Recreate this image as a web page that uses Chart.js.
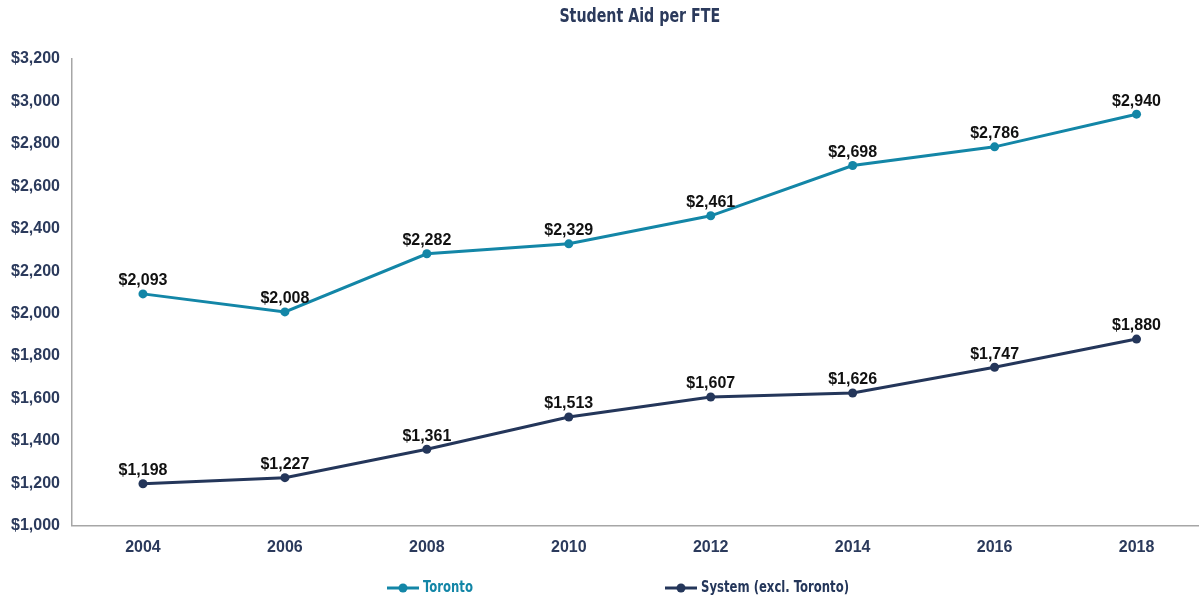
<!DOCTYPE html>
<html>
<head>
<meta charset="utf-8">
<script src="https://cdn.jsdelivr.net/npm/chart.js@4/dist/chart.umd.min.js"></script>
<style>
  html, body { margin: 0; padding: 0; background: #fff; overflow: hidden; }
  #wrap { width: 1199px; height: 597px; overflow: hidden; position: relative; }
  canvas { display: block; }
</style>
</head>
<body>
<div id="wrap"><canvas id="chart" width="1212" height="597"></canvas></div>
<script>
// données
const years = ['2004', '2006', '2008', '2010', '2012', '2014', '2016', '2018'];
const toronto = [2093, 2008, 2282, 2329, 2461, 2698, 2786, 2940];
const systemExcl = [1198, 1227, 1361, 1513, 1607, 1626, 1747, 1880];
const seriesNames = ['Toronto', 'System (excl. Toronto)'];
const chartTitle = 'Student Aid per FTE';
const yMin = 1000, yMax = 3200, yStep = 200;

const TEAL = '#1386a7';
const NAVY = '#24365a';
const AXIS_TXT = '#2b3a5c';
const NARROW = "'DejaVu Sans Condensed', 'Liberation Sans', sans-serif";
const SANS = "'Liberation Sans', Arial, sans-serif";

function fmtDollar(v) {
  return '$' + v.toLocaleString('en-US');
}

// texte "étroit" : police condensée + compression horizontale
function narrowText(ctx, txt, x, y, sx, align) {
  ctx.save();
  ctx.translate(x, y);
  ctx.scale(sx, 1);
  ctx.textAlign = align;
  ctx.fillText(txt, 0, 0);
  ctx.restore();
}

// étiquettes de valeur au-dessus des points
const valueLabels = {
  id: 'valueLabels',
  afterDatasetsDraw: function(chart) {
    const ctx = chart.ctx;
    ctx.save();
    ctx.font = 'bold 16px ' + SANS;
    ctx.fillStyle = '#111';
    ctx.textAlign = 'center';
    ctx.textBaseline = 'middle';
    chart.data.datasets.forEach(function(ds, i) {
      const meta = chart.getDatasetMeta(i);
      meta.data.forEach(function(pt, j) {
        ctx.fillText(fmtDollar(ds.data[j]), pt.x, pt.y - 13);
      });
    });
    ctx.restore();
  }
};

// titre centré sur la zone de tracé + légende maison (écart large entre les séries)
const titleAndLegend = {
  id: 'titleAndLegend',
  afterDraw: function(chart) {
    const ctx = chart.ctx;
    const area = chart.chartArea;
    ctx.save();
    ctx.textBaseline = 'middle';
    ctx.fillStyle = AXIS_TXT;
    ctx.font = 'bold 20px ' + NARROW;
    narrowText(ctx, chartTitle, (area.left + area.right) / 2, 17, 0.79, 'center');

    const starts = [387, 665];
    const yc = 588;
    ctx.font = 'bold 16px ' + NARROW;
    chart.data.datasets.forEach(function(ds, i) {
      const x0 = starts[i];
      ctx.strokeStyle = ds.borderColor;
      ctx.lineWidth = 3;
      ctx.beginPath();
      ctx.moveTo(x0, yc);
      ctx.lineTo(x0 + 32, yc);
      ctx.stroke();
      ctx.fillStyle = ds.borderColor;
      ctx.beginPath();
      ctx.arc(x0 + 16, yc, 4.5, 0, Math.PI * 2);
      ctx.fill();
      narrowText(ctx, ds.label, x0 + 36, yc, 0.81, 'left');
    });
    ctx.restore();
  }
};

new Chart(document.getElementById('chart').getContext('2d'), {
  type: 'line',
  data: {
    labels: years,
    datasets: [
      {
        label: seriesNames[0], data: toronto,
        borderColor: TEAL, backgroundColor: TEAL,
        borderWidth: 3, pointRadius: 4.5, pointBackgroundColor: TEAL,
        pointBorderWidth: 0, tension: 0
      },
      {
        label: seriesNames[1], data: systemExcl,
        borderColor: NAVY, backgroundColor: NAVY,
        borderWidth: 3, pointRadius: 4.5, pointBackgroundColor: NAVY,
        pointBorderWidth: 0, tension: 0
      }
    ]
  },
  options: {
    responsive: false,
    animation: false,
    layout: { padding: { left: 0, right: 2, top: 59, bottom: 28 } },
    scales: {
      x: {
        offset: true,
        grid: { display: false, drawTicks: false },
        border: { display: true, color: '#a6a6a6', width: 1.5 },
        ticks: { color: AXIS_TXT, font: { family: SANS, size: 16, weight: 'bold' }, padding: 12 }
      },
      y: {
        min: yMin, max: yMax,
        grid: { display: false, drawTicks: false },
        border: { display: true, color: '#a6a6a6', width: 1.5 },
        ticks: {
          stepSize: yStep, color: AXIS_TXT, padding: 12,
          font: { family: SANS, size: 16, weight: 'bold' },
          callback: function(v) { return fmtDollar(v); }
        },
        afterFit: function(scale) { scale.width = 72; }
      }
    },
    plugins: {
      legend: { display: false },
      tooltip: { enabled: false },
      title: { display: false }
    }
  },
  plugins: [valueLabels, titleAndLegend]
});
</script>
</body>
</html>
